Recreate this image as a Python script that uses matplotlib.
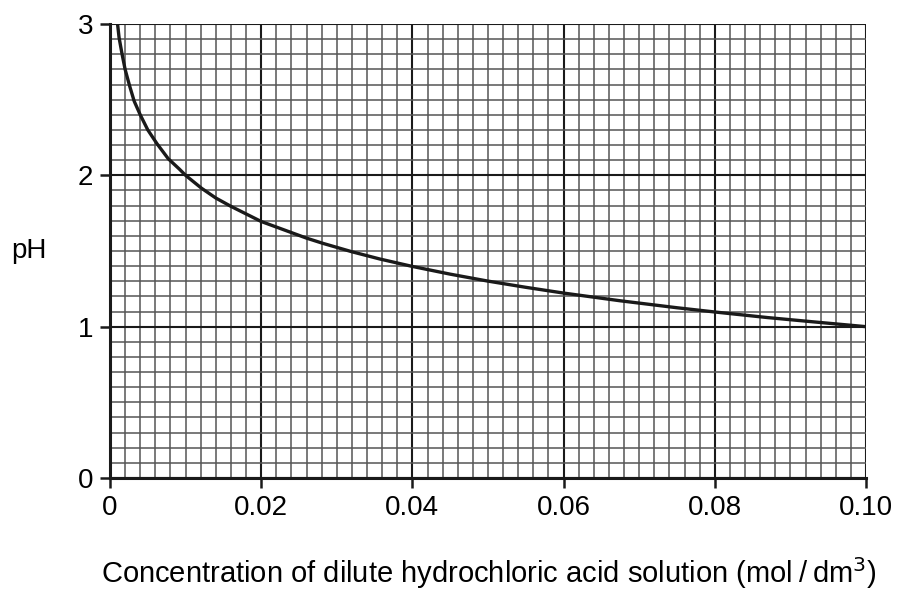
import matplotlib.pyplot as plt
import numpy as np

# values
conc = [0.0010, 0.0012, 0.0016, 0.0020, 0.0026, 0.0032, 0.0040, 0.0050, 0.0062,
        0.0077, 0.0092, 0.0100, 0.0121, 0.0140, 0.0160, 0.0180, 0.0200, 0.0230,
        0.0260, 0.0282, 0.0320, 0.0357, 0.0400, 0.0450, 0.0500, 0.0550, 0.0600,
        0.0675, 0.0750, 0.0800, 0.0870, 0.0930, 0.1000]
ph = [3.00, 2.91, 2.80, 2.70, 2.59, 2.49, 2.40, 2.30, 2.21,
      2.11, 2.04, 2.00, 1.915, 1.85, 1.795, 1.745, 1.695, 1.64,
      1.585, 1.55, 1.495, 1.447, 1.398, 1.347, 1.301, 1.26, 1.222,
      1.171, 1.125, 1.097, 1.06, 1.032, 1.00]

x_ticks = [0, 0.02, 0.04, 0.06, 0.08, 0.10]
x_labels = ['0', '0.02', '0.04', '0.06', '0.08', '0.10']
y_ticks = [0, 1, 2, 3]

plt.rcParams['font.family'] = ['Liberation Sans', 'DejaVu Sans']

fig = plt.figure(figsize=(8.99, 5.97), dpi=100)
ax = fig.add_axes([110/899, 1 - 478/597, 756/899, 454/597])

ax.set_xlim(0, 0.10)
ax.set_ylim(0, 3)

# graph paper grid
ax.set_xticks(np.arange(0, 0.1001, 0.002), minor=True)
ax.set_yticks(np.arange(0, 3.001, 0.1), minor=True)
ax.grid(which='minor', color='#555555', linewidth=1.1)
ax.grid(which='major', color='#1a1a1a', linewidth=1.5)
ax.set_axisbelow(True)

ax.plot(conc, ph, color='#1a1a1a', linewidth=2.4, solid_capstyle='butt', zorder=3)

ax.set_xticks(x_ticks)
ax.set_xticklabels(x_labels)
ax.set_yticks(y_ticks)
ax.tick_params(which='major', direction='out', length=7, width=1.8, labelsize=20,
               color='#1a1a1a', pad=5)
ax.tick_params(which='minor', length=0)

for s in ['top', 'right']:
    ax.spines[s].set_visible(False)
for s in ['left', 'bottom']:
    ax.spines[s].set_linewidth(2.2)
    ax.spines[s].set_color('#1a1a1a')

fig.text(29/899, 1 - 251/597, 'pH', fontsize=20, ha='center', va='center')
fig.text(489/899, 1 - 573/597,
         'Concentration of dilute hydrochloric acid solution (mol\u2009/\u2009dm$^3$)',
         fontsize=21, ha='center', va='center')

fig.savefig('out.png', dpi=100)
